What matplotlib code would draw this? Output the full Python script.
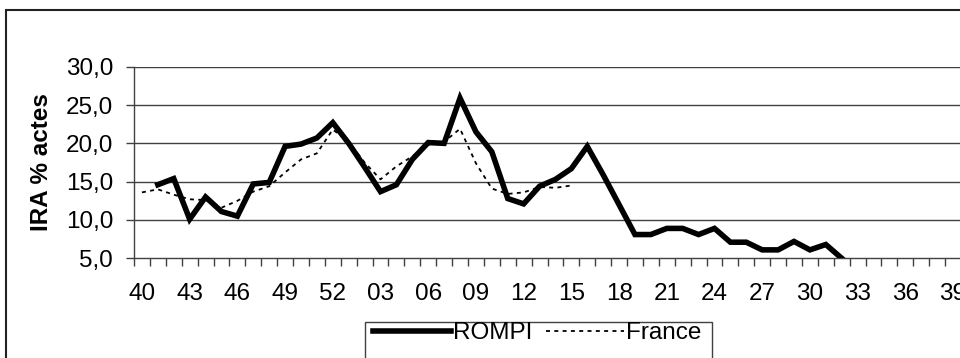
import numpy as np
import matplotlib
matplotlib.use("Agg")
import matplotlib.pyplot as plt
from matplotlib.patches import Rectangle

plt.rcParams["font.family"] = ["Liberation Sans", "DejaVu Sans"]

# Semaines 40 -> 52 puis 01 -> 39
weeks = [f"{w:02d}" for w in list(range(40, 53)) + list(range(1, 40))]

# IRA % actes, reseau ROMPI (semaines 41 a 32)
rompi = [None, 14.6, 15.4, 10.1, 13.0, 11.1, 10.5, 14.7, 14.9, 19.6, 19.9, 20.7, 22.7,
         20.0, 16.9, 13.7, 14.6, 17.9, 20.1, 20.0, 25.9, 21.5, 18.9, 12.8, 12.1, 14.4,
         15.3, 16.7, 19.6, 15.9, 12.0, 8.1, 8.1, 8.9, 8.9, 8.1, 8.9, 7.1, 7.1, 6.1,
         6.1, 7.2, 6.1, 6.8, 5.0]

# IRA % actes, France (semaines 40 a 15)
france = [13.6, 14.0, 13.3, 12.7, 12.6, 11.6, 12.5, 13.7, 14.4, 16.2, 17.9, 18.7, 21.8,
          20.2, 17.5, 15.3, 17.0, 18.3, 19.8, 20.2, 21.9, 17.4, 14.1, 13.4, 13.6, 14.3,
          14.2, 14.5]

rompi_y = np.array([np.nan if v is None else v for v in rompi], dtype=float)
france_y = np.array(france, dtype=float)
xr = np.arange(len(rompi_y)) + 0.5
xf = np.arange(len(france_y)) + 0.5

fig = plt.figure(figsize=(9.6, 3.58), dpi=100)
ax = fig.add_axes([134 / 960, 1 - 258.3 / 358, 827 / 960, (258.3 - 66.7) / 358])

grid_c = "#404040"
for yv in [10, 15, 20, 25, 30]:
    ax.axhline(yv, color=grid_c, lw=1.0, zorder=1)

l1, = ax.plot(xr, rompi_y, color="black", lw=4.0, solid_joinstyle="miter", zorder=3)
l2, = ax.plot(xf, france_y, color="black", lw=1.3, linestyle=(0, (2.2, 2.4)), zorder=2)

ax.set_xlim(0, len(weeks))
ax.set_ylim(5, 30)
ax.set_yticks([5, 10, 15, 20, 25, 30])
ax.set_yticklabels([f"{v:.1f}".replace(".", ",") for v in [5, 10, 15, 20, 25, 30]])
ax.set_xticks(np.arange(0, len(weeks), 3) + 0.5)
ax.set_xticklabels(weeks[::3])
ax.set_xticks(np.arange(0, len(weeks) + 1), minor=True)
ax.tick_params(axis="x", which="major", length=0, pad=18, labelsize=17.5)
ax.tick_params(axis="x", which="minor", length=6, width=1, color=grid_c, direction="out")
ax.tick_params(axis="y", length=6, width=1, color=grid_c, direction="out", labelsize=17.5, pad=9)

for s in ["top", "right"]:
    ax.spines[s].set_visible(False)
for s in ["left", "bottom"]:
    ax.spines[s].set_color(grid_c)
    ax.spines[s].set_linewidth(1.0)

ax.set_ylabel("IRA % actes", fontsize=17.5, fontweight="bold")
ax.yaxis.set_label_coords(-0.098, 0.5)

# legende sous le graphique (cadre coupe par le bord)
fig.patches.append(Rectangle((365 / 960, -0.2), (712 - 365) / 960, 0.2 + 1 - 322 / 358,
                             transform=fig.transFigure, fill=False, edgecolor=grid_c,
                             lw=1.0, clip_on=False))
fig.legend([l1, l2], ["ROMPI", "France"], loc="center left",
           bbox_to_anchor=(373 / 960, 1 - 333 / 358), ncol=2, frameon=False,
           fontsize=17.5, handlelength=3.2, handletextpad=0.1, columnspacing=0.55,
           borderpad=0, borderaxespad=0)

# cadre exterieur du graphique
fig.patches.append(Rectangle((6 / 960, -0.2), 1.2, 1.2 - 10 / 358,
                             transform=fig.transFigure, fill=False, edgecolor="#222222",
                             lw=1.5, clip_on=False))

fig.savefig("out.png", dpi=100, facecolor="white")
